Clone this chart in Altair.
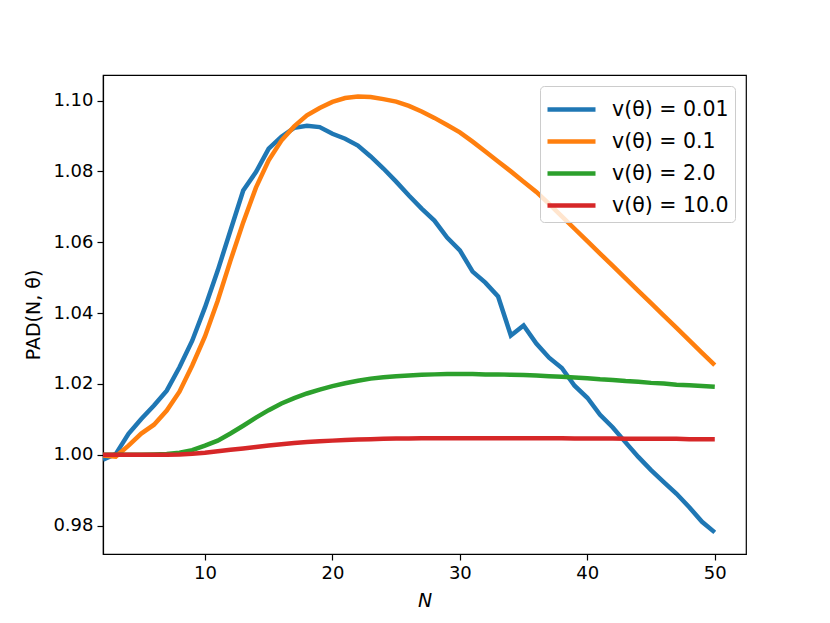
import altair as alt
import pandas as pd

N = list(range(2, 51))

series_labels = ["v(θ) = 0.01", "v(θ) = 0.1", "v(θ) = 2.0", "v(θ) = 10.0"]
series_colors = ["#1f77b4", "#ff7f0e", "#2ca02c", "#d62728"]

v001 = [0.9986, 1.0002, 1.0059, 1.0101, 1.0139, 1.0181, 1.0247, 1.0322, 1.0416, 1.0520,
        1.0633, 1.0746, 1.0798, 1.0864, 1.0898, 1.0923, 1.0929, 1.0925, 1.0906, 1.0892,
        1.0873, 1.0842, 1.0808, 1.0771, 1.0732, 1.0695, 1.0661, 1.0613, 1.0577, 1.0517,
        1.0486, 1.0447, 1.0337, 1.0365, 1.0314, 1.0274, 1.0245, 1.0195, 1.0161, 1.0113,
        1.0077, 1.0035, 0.9994, 0.9957, 0.9923, 0.9890, 0.9852, 0.9811, 0.9781]

v01 = [0.9998, 0.9995, 1.0026, 1.0060, 1.0085, 1.0125, 1.0178, 1.0252, 1.0334, 1.0435,
       1.0548, 1.0656, 1.0754, 1.0831, 1.0887, 1.0927, 1.0958, 1.0979, 1.0996, 1.1007,
       1.1011, 1.1010, 1.1004, 1.0997, 1.0985, 1.0969, 1.0951, 1.0931, 1.0910, 1.0884,
       1.0856, 1.0828, 1.0800, 1.0771, 1.0742, 1.0708, 1.0673, 1.0638, 1.0603, 1.0568,
       1.0533, 1.0498, 1.0463, 1.0428, 1.0393, 1.0358, 1.0323, 1.0288, 1.0253]

v2 = [1.0000, 1.0000, 1.0000, 1.0000, 1.0001, 1.0002, 1.0006, 1.0013, 1.0026, 1.0040,
      1.0060, 1.0082, 1.0105, 1.0126, 1.0145, 1.0160, 1.0173, 1.0184, 1.0194, 1.0202,
      1.0209, 1.0215, 1.0219, 1.0222, 1.0224, 1.0226, 1.0227, 1.0228, 1.0228, 1.0228,
      1.0227, 1.0227, 1.0226, 1.0225, 1.0224, 1.0222, 1.0220, 1.0218, 1.0216, 1.0213,
      1.0211, 1.0208, 1.0206, 1.0203, 1.0201, 1.0198, 1.0196, 1.0194, 1.0192]

v10 = [1.0000, 1.0000, 1.0000, 1.0000, 1.0000, 1.0000, 1.0001, 1.0003, 1.0006, 1.0010,
       1.0014, 1.0018, 1.0022, 1.0026, 1.0030, 1.0033, 1.0036, 1.0038, 1.0040, 1.0042,
       1.0043, 1.0044, 1.0045, 1.0046, 1.0046, 1.0047, 1.0047, 1.0047, 1.0047, 1.0047,
       1.0047, 1.0047, 1.0047, 1.0047, 1.0047, 1.0047, 1.0047, 1.0046, 1.0046, 1.0046,
       1.0046, 1.0045, 1.0045, 1.0045, 1.0045, 1.0045, 1.0044, 1.0044, 1.0044]

x_ticks = [10, 20, 30, 40, 50]
y_ticks = [0.98, 1.00, 1.02, 1.04, 1.06, 1.08, 1.10]

rows = []
for order, (lab, vals) in enumerate(zip(series_labels, [v001, v01, v2, v10])):
    for n, v in zip(N, vals):
        rows.append({"N": n, "PAD": v, "series": lab, "order": order})
df = pd.DataFrame(rows)

FONT = "DejaVu Sans"

chart = alt.Chart(df).mark_line(strokeWidth=4.5, clip=True).encode(
    x=alt.X("N:Q",
            scale=alt.Scale(domain=[2, 52.45], nice=False, zero=False),
            axis=alt.Axis(title="N", values=x_ticks, format="d", titleFontStyle="italic")),
    y=alt.Y("PAD:Q",
            scale=alt.Scale(domain=[0.972, 1.1072], nice=False, zero=False),
            axis=alt.Axis(title="PAD(N, θ)", values=y_ticks, format=".2f")),
    color=alt.Color("series:N",
                    scale=alt.Scale(domain=series_labels, range=series_colors),
                    legend=alt.Legend(
                        title=None,
                        orient="top-right",
                        offset=11,
                        padding=6,
                        fillColor="rgba(255,255,255,0.8)",
                        strokeColor="#cccccc",
                        cornerRadius=4,
                        symbolType="M-1.6,0L1.6,0",
                        symbolSize=900,
                        symbolStrokeWidth=4.5,
                        symbolOffset=8,
                        labelOffset=23,
                        labelFontSize=20.5,
                        labelFont=FONT,
                        labelColor="black",
                        rowPadding=4,
                    )),
    order=alt.Order("order:Q"),
    detail="series:N",
).properties(
    width=643,
    height=479,
    autosize=alt.AutoSizeParams(type="none"),
    padding={"left": 95, "top": 67, "right": 76, "bottom": 62},
).configure(
    font=FONT,
    background="white",
).configure_view(
    stroke="black",
    strokeWidth=1.2,
).configure_axis(
    grid=False,
    domainColor="black",
    domainWidth=1.2,
    tickColor="black",
    tickSize=6,
    tickWidth=1.2,
    labelFont=FONT,
    labelFontSize=18,
    labelColor="black",
    labelPadding=4,
    titleFont=FONT,
    titleFontSize=19,
    titleFontWeight="normal",
    titleColor="black",
    titlePadding=9,
)

chart.save("out.html", embed_options={"renderer": "svg", "actions": False})
